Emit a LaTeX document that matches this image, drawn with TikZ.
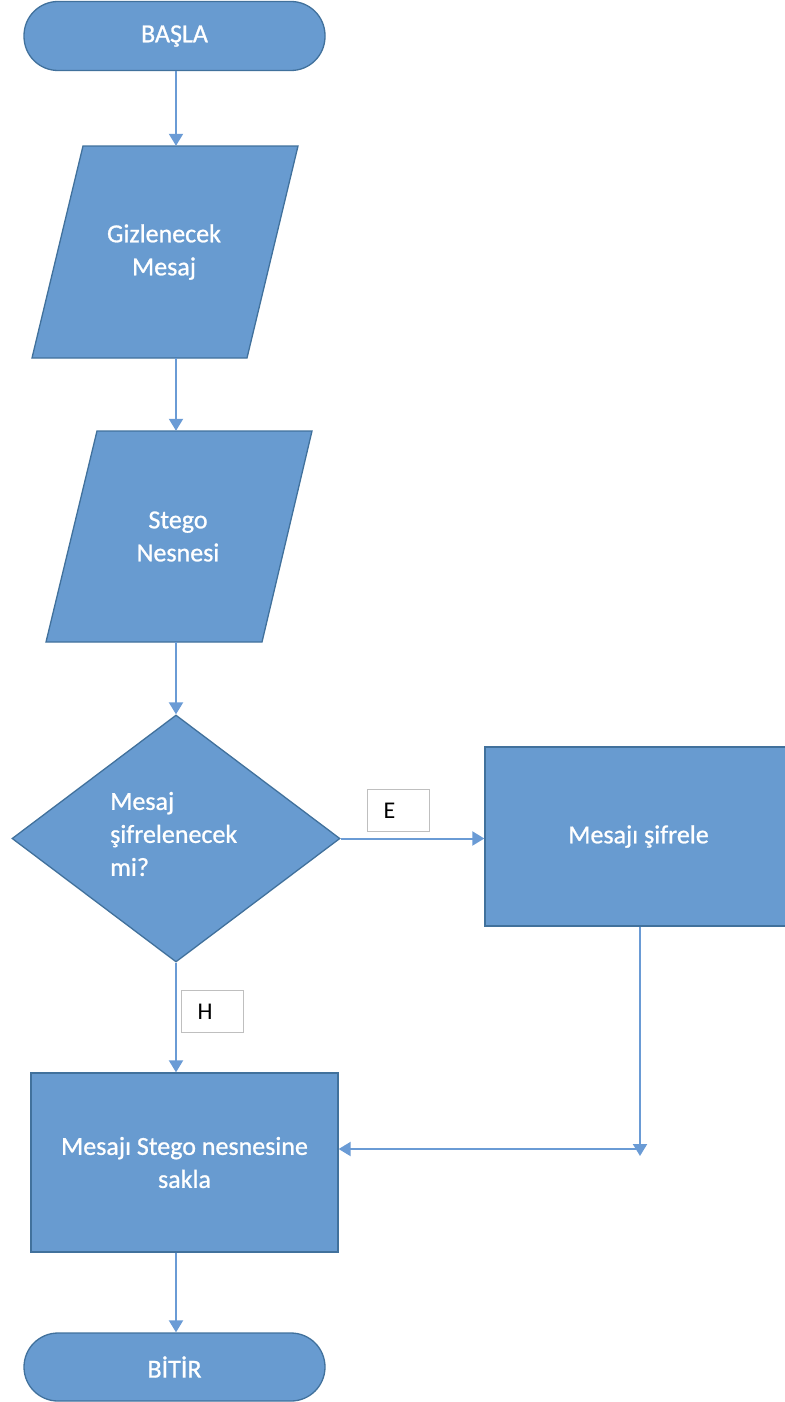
\documentclass[tikz,border=0pt]{standalone}
\usepackage{fontspec}
\setmainfont{Carlito}
\newfontfamily\boxfont[FakeBold=0.9]{Carlito}
\usetikzlibrary{shapes.geometric,arrows.meta}
\definecolor{fillb}{RGB}{104,155,208}
\definecolor{edgeb}{RGB}{65,113,156}
\definecolor{arrb}{RGB}{106,155,213}
\definecolor{lblgray}{RGB}{191,191,191}
\begin{document}
\begin{tikzpicture}[x=1pt,y=-1pt,
  box/.style={draw=edgeb, fill=fillb, line width=1.3pt},
  txt/.style={text=white, font=\boxfont\fontsize{26}{33}\selectfont, align=center},
  anchorbox/.style={inner sep=0pt},
  arr/.style={draw=arrb, line width=2pt, -{Triangle[width=14pt,length=12pt]}},
  lbl/.style={draw=lblgray, fill=white, line width=1.3pt, minimum height=42pt, inner sep=0pt, font=\fontsize{24}{28}\selectfont, text=black},
]
\useasboundingbox (0,0) rectangle (784,1402);

% start
\node[box, txt, rounded corners=34pt, minimum width=301pt, minimum height=69pt, inner sep=0pt] (start) at (174.5,36) {BAŞLA};

% parallelogram 1
\draw[box] (83,146) -- (298,146) -- (247,358) -- (32,358) -- cycle;
\node[txt, anchorbox, minimum width=215pt, minimum height=212pt] (p1) at (164,252) {Gizlenecek\\Mesaj};

% parallelogram 2
\draw[box] (97,431) -- (312,431) -- (262,642) -- (46,642) -- cycle;
\node[txt, anchorbox, minimum width=215pt, minimum height=211pt] (p2) at (178,536.5) {Stego\\Nesnesi};

% decision
\node[box, diamond, minimum width=328pt, minimum height=247pt, inner sep=0pt] (dec) at (176,838.5) {};
\node[txt, align=left, anchor=west, inner sep=0pt] (dect) at (110,834) {Mesaj\\şifrelenecek\\mi?};

% process boxes
\node[box, txt, minimum width=307pt, minimum height=179pt, inner sep=0pt] (enc) at (638.5,836.5) {Mesajı şifrele};
\node[box, txt, minimum width=307pt, minimum height=179pt, inner sep=0pt] (store) at (184.5,1162.5) {Mesajı Stego nesnesine\\sakla};

% end
\node[box, txt, rounded corners=34pt, minimum width=301pt, minimum height=68pt, inner sep=0pt] (end) at (174.5,1367) {BİTİR};

% labels
\node[lbl, anchor=north west] (e) at (367,789) {\makebox[62pt][l]{\hspace*{16pt}E}};
\node[lbl, anchor=north west] (h) at (181,990) {\makebox[62pt][l]{\hspace*{16pt}H}};

% connectors
\coordinate (col) at (176,0);
\draw[arr] (col |- start.south) -- (col |- p1.north);
\draw[arr] (col |- p1.south) -- (col |- p2.north);
\draw[arr] (col |- p2.south) -- (dec.north);
\draw[arr] (dec.east) -- (dec.east -| enc.west);
\draw[arr] (dec.south) -- (dec.south |- store.north);
\coordinate (j) at (640,1149);
\coordinate (jv) at (640,1156);
\draw[arr] (enc.south -| j) -- (jv);
\draw[arr] (j) -- (j -| store.east);
\draw[arr] (col |- store.south) -- (col |- end.north);
\end{tikzpicture}
\end{document}
